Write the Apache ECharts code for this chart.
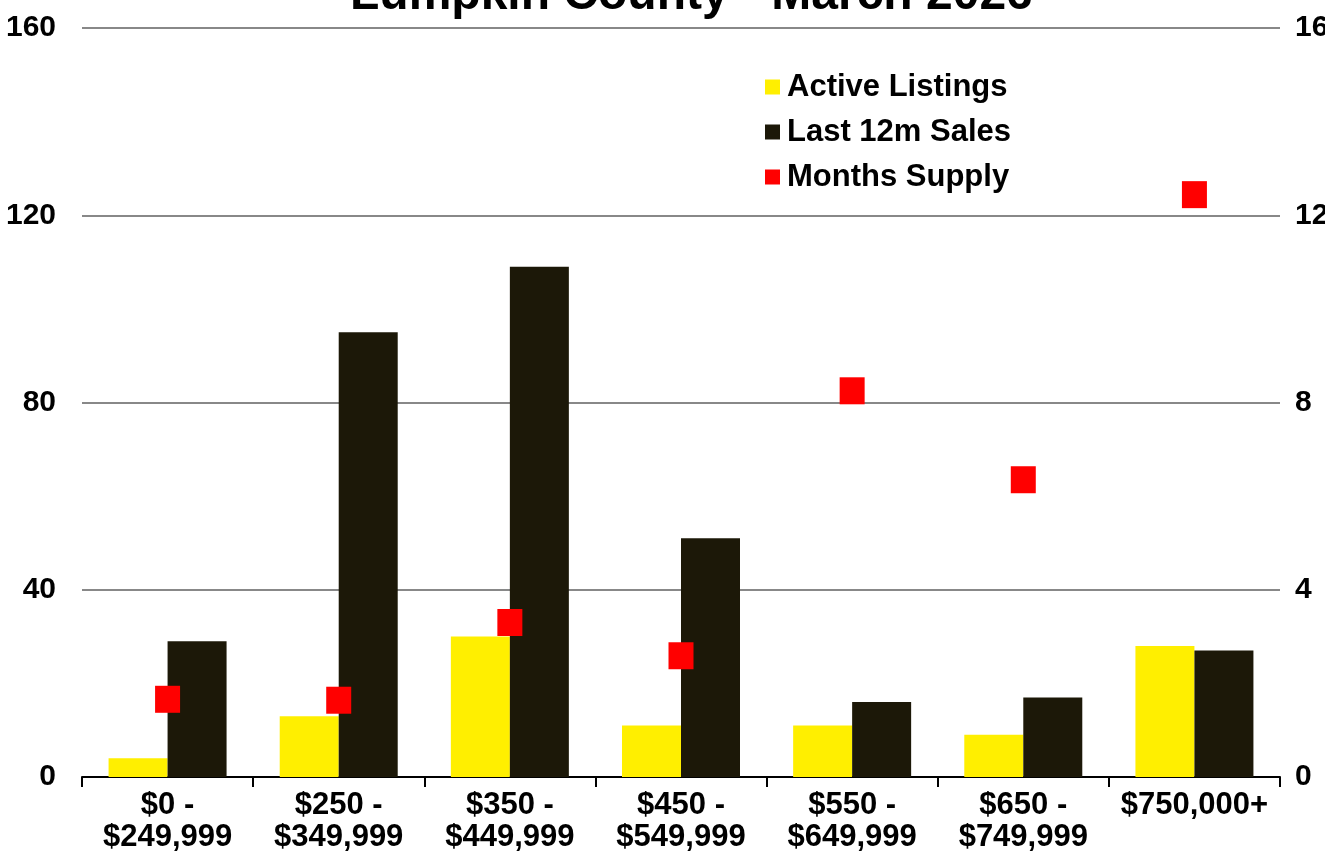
<!DOCTYPE html>
<html>
<head>
<meta charset="utf-8">
<script src="https://cdn.jsdelivr.net/npm/echarts@6/dist/echarts.min.js"></script>
<style>
    html, body { margin: 0; padding: 0; background: #fff; }
    #chart { width: 1325px; height: 860px; }
</style>
</head>
<body>
<div id="chart"></div>
<script>
    const categories = ['$0 -\n$249,999', '$250 -\n$349,999', '$350 -\n$449,999', '$450 -\n$549,999',
        '$550 -\n$649,999', '$650 -\n$749,999', '$750,000+'];
    const activeListings = [4, 13, 30, 11, 11, 9, 28];
    const lastSales = [29, 95, 109, 51, 16, 17, 27];
    const monthsSupply = [1.66, 1.64, 3.3, 2.59, 8.25, 6.35, 12.44];

    const font = 'Liberation Sans, Arial, Helvetica, sans-serif';

    const chart = echarts.init(document.getElementById('chart'));

    chart.setOption({
        animation: false,
        backgroundColor: '#ffffff',
        title: {
            text: 'Lumpkin County - March 2026',
            left: 345,
            top: -33,
            textStyle: { fontFamily: font, fontWeight: 'bold', fontSize: 48, color: '#000' }
        },
        legend: {
            orient: 'vertical',
            left: 760,
            top: 66,
            itemWidth: 15,
            itemHeight: 15,
            itemGap: 13,
            textStyle: { fontFamily: font, fontWeight: 'bold', fontSize: 31, color: '#000', lineHeight: 32, padding: [0, 0, 0, 2] },
            data: [
                { name: 'Active Listings', icon: 'rect' },
                { name: 'Last 12m Sales', icon: 'rect' },
                { name: 'Months Supply', icon: 'rect' }
            ]
        },
        grid: { left: 82, right: 45, top: 28, bottom: 83, containLabel: false, outerBoundsMode: 'none' },
        xAxis: {
            type: 'category',
            data: categories,
            axisLine: { lineStyle: { color: '#000', width: 2 } },
            axisTick: { show: true, length: 10, lineStyle: { color: '#000', width: 2 } },
            axisLabel: {
                interval: 0, margin: 12, color: '#000', fontFamily: font,
                fontWeight: 'bold', fontSize: 31, lineHeight: 32
            }
        },
        yAxis: [
            {
                type: 'value', min: 0, max: 160, interval: 40,
                axisLine: { show: false }, axisTick: { show: false },
                splitLine: { lineStyle: { color: '#888', width: 2 } },
                axisLabel: { margin: 26, color: '#000', fontFamily: font, fontWeight: 'bold', fontSize: 30 }
            },
            {
                type: 'value', min: 0, max: 16, interval: 4,
                axisLine: { show: false }, axisTick: { show: false },
                splitLine: { show: false },
                axisLabel: { margin: 15, color: '#000', fontFamily: font, fontWeight: 'bold', fontSize: 30 }
            }
        ],
        series: [
            {
                name: 'Active Listings',
                type: 'bar',
                barWidth: 59,
                barGap: '0%',
                itemStyle: { color: '#ffef00' },
                data: activeListings
            },
            {
                name: 'Last 12m Sales',
                type: 'bar',
                barWidth: 59,
                barGap: '0%',
                itemStyle: { color: '#1c1808' },
                data: lastSales
            },
            {
                name: 'Months Supply',
                type: 'scatter',
                yAxisIndex: 1,
                symbol: 'rect',
                symbolSize: [25, 27],
                itemStyle: { color: '#ff0000', opacity: 1 },
                z: 5,
                data: monthsSupply
            }
        ]
    });
</script>
</body>
</html>
